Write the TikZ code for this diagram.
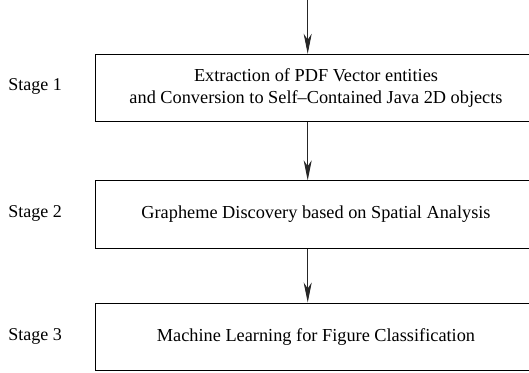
\documentclass[tikz,border=0pt]{standalone}
\usepackage{fontspec}
\setmainfont{Liberation Serif}
\usetikzlibrary{arrows.meta}
\tikzset{
  stagebox/.style={draw=black, line width=1pt, minimum width=442pt, minimum height=67.4pt, inner sep=0pt, align=center, font=\fontsize{18.3}{22.7}\selectfont},
  stagelabel/.style={inner sep=0pt, font=\fontsize{18}{22}\selectfont},
  flowarrow/.style={draw=black!85, line width=0.9pt, -{Stealth[length=20pt,width=8pt,inset=6pt]}}
}
\begin{document}
\begin{tikzpicture}[x=1pt,y=-1pt]
\useasboundingbox (0,0) rectangle (529,372);
\clip (0,0) rectangle (529,372);
\node[stagebox] (b1) at (316,88) {Extraction of PDF Vector entities\\and Conversion to Self–Contained Java 2D objects};
\node[stagebox] (b2) at (316,214.5) {Grapheme Discovery based on Spatial Analysis};
\node[stagebox] (b3) at (316,336.7) {Machine Learning for Figure Classification};
\node[stagelabel] (s1) at (35,86) {Stage 1};
\node[stagelabel] (s2) at (35,213) {Stage 2};
\node[stagelabel] (s3) at (35,336) {Stage 3};
\coordinate (top) at (307.7,0);
\draw[flowarrow] (top) -- (top |- b1.north);
\draw[flowarrow] (top |- b1.south) -- (top |- b2.north);
\draw[flowarrow] (top |- b2.south) -- (top |- b3.north);
\end{tikzpicture}
\end{document}
